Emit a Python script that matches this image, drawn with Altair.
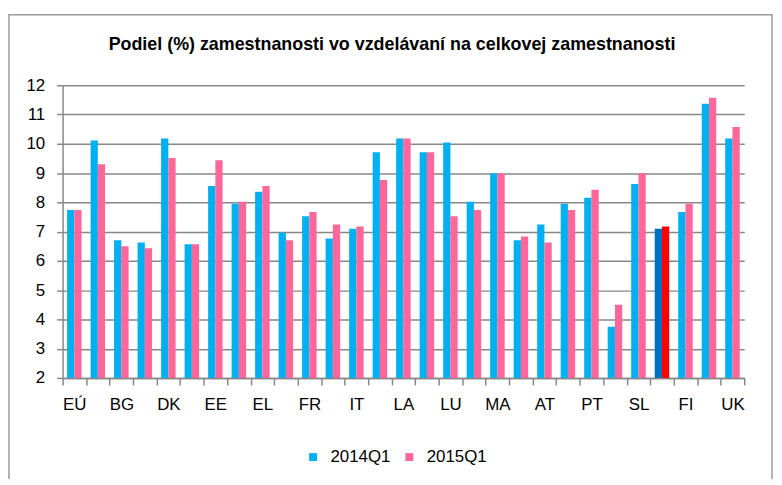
import altair as alt
import pandas as pd

countries = ["EÚ", "BE", "BG", "CZ", "DK", "DE", "EE", "IE", "EL", "ES", "FR", "HR",
             "IT", "CY", "LA", "LT", "LU", "HU", "MA", "NL", "AT", "PL", "PT", "RO",
             "SL", "SK", "FI", "SE", "UK"]
v2014 = [7.74, 10.11, 6.70, 6.63, 10.18, 6.57, 8.56, 7.95, 8.36, 6.96, 7.52, 6.76,
         7.10, 9.71, 10.18, 9.71, 10.04, 8.02, 8.99, 6.70, 7.24, 7.95, 8.16, 3.75,
         8.63, 7.10, 7.67, 11.37, 10.18]
v2015 = [7.74, 9.30, 6.50, 6.43, 9.51, 6.57, 9.44, 8.02, 8.56, 6.70, 7.67, 7.24,
         7.17, 8.76, 10.18, 9.71, 7.52, 7.74, 8.99, 6.83, 6.63, 7.74, 8.43, 4.50,
         8.99, 7.17, 7.95, 11.57, 10.57]
series = ["2014Q1", "2015Q1"]
tick_labels = ["EÚ", "BG", "DK", "EE", "EL", "FR", "IT", "LA", "LU", "MA", "AT",
               "PT", "SL", "FI", "UK"]
y_ticks = [2, 3, 4, 5, 6, 7, 8, 9, 10, 11, 12]
highlight = "SK"
title_text = "Podiel (%) zamestnanosti vo vzdelávaní na celkovej zamestnanosti"

rows = []
for c, a, b in zip(countries, v2014, v2015):
    rows.append({"country": c, "series": series[0], "value": a})
    rows.append({"country": c, "series": series[1], "value": b})
df = pd.DataFrame(rows)

FONT = "Liberation Sans, Arial, sans-serif"
GRAY = "#878787"

label_list = "[" + ",".join("'" + t + "'" for t in tick_labels) + "]"

bars = alt.Chart(df).mark_bar().encode(
    x=alt.X("country:N", sort=countries,
            scale=alt.Scale(paddingInner=0, paddingOuter=0),
            axis=alt.Axis(title=None, labelAngle=0, tickBand="extent",
                          labelExpr="indexof(" + label_list + ", datum.label) >= 0 ? datum.label : ''",
                          labelFontSize=17, labelFont=FONT, labelColor="#000000",
                          labelPadding=12, tickSize=7, tickColor=GRAY, tickWidth=1.5,
                          domainColor=GRAY, domainWidth=1.5, grid=False)),
    xOffset=alt.XOffset("series:N", sort=series,
                        scale=alt.Scale(paddingInner=0, paddingOuter=0.62)),
    y=alt.Y("value:Q", scale=alt.Scale(domain=[2, 12], zero=False, nice=False),
            axis=alt.Axis(title=None, values=y_ticks, grid=True, gridColor=GRAY,
                          gridWidth=1.5, domainColor=GRAY, domainWidth=1.5,
                          tickColor=GRAY, tickWidth=1.5, tickSize=6,
                          labelFontSize=17, labelFont=FONT, labelColor="#000000",
                          labelPadding=12)),
    y2=alt.datum(2),
    color=alt.Color("series:N", sort=series,
                    scale=alt.Scale(domain=series, range=["#00B0F0", "#FF6699"]),
                    condition=[
                        {"test": "datum.country == '" + highlight + "' && datum.series == '" + series[0] + "'", "value": "#0070C0"},
                        {"test": "datum.country == '" + highlight + "' && datum.series == '" + series[1] + "'", "value": "#FF0000"},
                    ],
                    legend=alt.Legend(orient="none", legendX=244, legendY=366,
                                      direction="horizontal", title=None,
                                      symbolType="square", symbolSize=64,
                                      symbolStrokeWidth=0,
                                      labelFontSize=17, labelFont=FONT,
                                      labelColor="#000000",
                                      columnPadding=10, labelOffset=9)),
)

frame = alt.Chart(pd.DataFrame({"k": [0]})).mark_rect(
    fill=None, stroke="#9a9a9a", strokeWidth=1.5
).encode(x=alt.value(-54), x2=alt.value(715), y=alt.value(-71), y2=alt.value(430))

title = alt.Chart(pd.DataFrame({"t": [title_text]})).mark_text(
    font=FONT, fontSize=18, fontWeight="bold", align="center",
    baseline="alphabetic", color="#000000"
).encode(text="t:N", x=alt.value(332), y=alt.value(-36))

chart = alt.layer(frame, bars, title).properties(
    width=687, height=295,
    autosize=alt.AutoSizeParams(type="none"),
    padding={"left": 55, "top": 76, "right": 30, "bottom": 100},
).configure_view(stroke=None)

chart.save("out.html", embed_options={"renderer": "svg", "actions": False})
